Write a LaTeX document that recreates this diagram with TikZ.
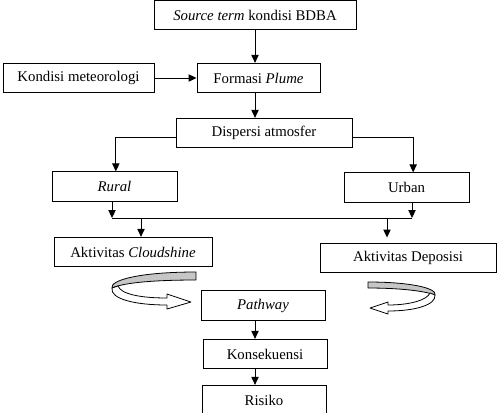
\documentclass[tikz,border=0pt]{standalone}
\usepackage{fontspec}
\setmainfont{Liberation Serif}
\usetikzlibrary{arrows.meta}

\begin{document}
\begin{tikzpicture}[x=0.75pt,y=-0.75pt,
	box/.style={draw,line width=0.7pt,inner sep=0pt,minimum height=22pt,font=\fontsize{11.1pt}{13pt}\selectfont},
	arr/.style={line width=0.7pt,-{Triangle[length=6pt,width=5.5pt]}},
	band/.style={line width=0.6pt,line join=round}]
	\clip (0,0) rectangle (502,412);
	\node[box,minimum width=151.5pt] (src) at (255,15) {\textit{Source term} kondisi BDBA};
	\node[box,minimum width=113.25pt] (met) at (78.5,78) {Kondisi meteorologi};
	\node[box,minimum width=92.25pt] (plume) at (258.5,78) {Formasi \textit{Plume}};
	\node[box,minimum width=132pt] (disp) at (264,133) {Dispersi atmosfer};
	\node[box,minimum width=93.75pt] (rural) at (114.5,186.5) {\textit{Rural}};
	\node[box,minimum width=93.75pt] (urban) at (406.5,187.5) {Urban};
	\node[box,minimum width=118.5pt] (cloud) at (133,252) {Aktivitas \textit{Cloudshine}};
	\node[box,minimum width=132pt] (depo) at (408,258) {Aktivitas Deposisi};
	\node[box,minimum width=93pt] (path) at (263,305.5) {\textit{Pathway}};
	\node[box,minimum width=93pt] (kons) at (265,354) {Konsekuensi};
	\node[box,minimum width=93pt] (risk) at (264,400) {Risiko};
	\coordinate (jl) at (112,218);
	\coordinate (jr) at (412,218);
	\coordinate (jc) at (141,218);
	\coordinate (jd) at (387,218);
	\draw[arr] (src) -- (src |- plume.north);
	\draw[arr] (met) -- (plume);
	\draw[arr] (plume.south -| src) -- (src |- disp.north);
	\draw[arr] ([yshift=-3pt]disp.west) -| ([xshift=1pt]rural.north);
	\draw[arr] ([yshift=-3pt]disp.east) -| ([xshift=5pt]urban.north);
	\draw[arr] (rural.south -| jl) -- (jl);
	\draw[arr] (urban.south -| jr) -- (jr);
	\draw[line width=0.7pt] (jl) -- (jr);
	\draw[arr] (jc) -- (jc |- cloud.north);
	\draw[arr] (jd) -- ([yshift=4pt]jd |- depo.north);
	\draw[arr] (path.south -| src) -- (src |- kons.north);
	\draw[arr] (kons.south -| src) -- (src |- risk.north);
	\filldraw[band,fill=gray!45] (196,272) .. controls (140,272) and (110,280) .. (112,288) .. controls (125,282) and (160,280) .. (196,280) -- cycle;
	\filldraw[band,fill=white] (112,288) .. controls (110,299) and (135,305) .. (167,305) -- (167,309) -- (191,302) -- (167,294) -- (167,298) .. controls (140,298) and (121,294) .. (118,286) -- cycle;
	\filldraw[band,fill=gray!45] (368,282) .. controls (410,282) and (437,288) .. (435,295) .. controls (425,291) and (400,288) .. (368,288) -- cycle;
	\filldraw[band,fill=white] (435,295) .. controls (436,305) and (415,311) .. (388,311) -- (388,314) -- (370,308) -- (388,302) -- (388,305) .. controls (410,305) and (427,300) .. (430,293) -- cycle;
\end{tikzpicture}
\end{document}
